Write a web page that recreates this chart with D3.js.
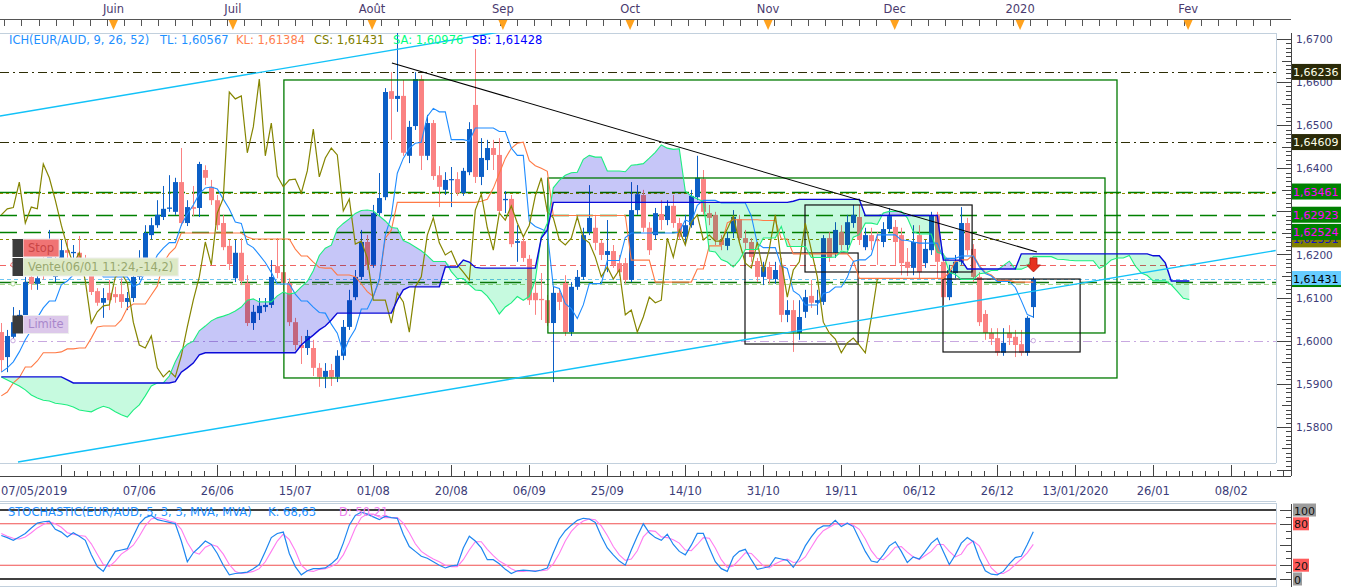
<!DOCTYPE html>
<html><head><meta charset="utf-8">
<script src="https://cdn.jsdelivr.net/npm/d3@7"></script>
<style>
html,body{margin:0;padding:0;background:#fff;}
svg{display:block;font-family:"DejaVu Sans",Verdana,sans-serif;}
</style>
</head><body>
<svg id="c" width="1349" height="588"></svg>
<script>
// ---------------- DATA ----------------
const opens=[1.6020,1.5962,1.6009,1.6029,1.6055,1.6148,1.6132,1.6187,1.6164,1.6148,1.6192,1.6210,1.6203,1.6204,1.6187,1.6164,1.6115,1.6088,1.6111,1.6108,1.6108,1.6090,1.6099,1.6148,1.6192,1.6245,1.6268,1.6287,1.6306,1.6299,1.6368,1.6273,1.6310,1.6308,1.6396,1.6357,1.6326,1.6273,1.6220,1.6145,1.6204,1.6134,1.6041,1.6064,1.6078,1.6083,1.6173,1.6159,1.6134,1.6043,1.5990,1.5983,1.5983,1.5937,1.5916,1.5932,1.5916,1.5965,1.6032,1.6101,1.6148,1.6229,1.6176,1.6296,1.6333,1.6579,1.6561,1.6568,1.6429,1.6498,1.6607,1.6429,1.6505,1.6384,1.6350,1.6373,1.6375,1.6343,1.6391,1.6547,1.6380,1.6419,1.6447,1.6431,1.6326,1.6329,1.6227,1.6231,1.6190,1.6111,1.6097,1.6094,1.6041,1.6111,1.6134,1.6020,1.6125,1.6148,1.6252,1.6262,1.6227,1.6199,1.6208,1.6180,1.6180,1.6141,1.6303,1.6338,1.6262,1.6245,1.6294,1.6280,1.6313,1.6273,1.6241,1.6268,1.6333,1.6375,1.6296,1.6292,1.6234,1.6220,1.6252,1.6282,1.6238,1.6229,1.6185,1.6148,1.6171,1.6143,1.6176,1.6060,1.6071,1.6018,1.6067,1.6104,1.6088,1.6090,1.6238,1.6204,1.6252,1.6222,1.6273,1.6287,1.6217,1.6245,1.6234,1.6229,1.6259,1.6264,1.6245,1.6183,1.6169,1.6245,1.6180,1.6210,1.6292,1.6183,1.6101,1.6157,1.6183,1.6273,1.6213,1.6148,1.6062,1.6018,1.6006,1.5972,1.6018,1.6009,1.5992,1.5972,1.6078];
const highs=[1.6041,1.6025,1.6078,1.6071,1.6148,1.6157,1.6164,1.6234,1.6257,1.6210,1.6234,1.6234,1.6222,1.6243,1.6199,1.6176,1.6122,1.6122,1.6141,1.6125,1.6145,1.6113,1.6164,1.6210,1.6268,1.6285,1.6326,1.6359,1.6384,1.6378,1.6447,1.6326,1.6359,1.6415,1.6407,1.6373,1.6338,1.6292,1.6234,1.6234,1.6238,1.6152,1.6083,1.6099,1.6099,1.6187,1.6238,1.6187,1.6145,1.6053,1.6011,1.6025,1.6002,1.5948,1.5948,1.5946,1.5978,1.6048,1.6118,1.6164,1.6257,1.6245,1.6315,1.6389,1.6586,1.6623,1.6752,1.6605,1.6510,1.6623,1.6616,1.6524,1.6512,1.6405,1.6391,1.6403,1.6391,1.6401,1.6507,1.6677,1.6470,1.6466,1.6466,1.6470,1.6347,1.6338,1.6268,1.6245,1.6199,1.6141,1.6157,1.6106,1.6125,1.6122,1.6152,1.6136,1.6164,1.6262,1.6361,1.6292,1.6234,1.6280,1.6222,1.6199,1.6192,1.6368,1.6361,1.6350,1.6275,1.6308,1.6326,1.6326,1.6338,1.6285,1.6292,1.6350,1.6429,1.6396,1.6315,1.6299,1.6245,1.6252,1.6303,1.6292,1.6257,1.6238,1.6192,1.6183,1.6183,1.6183,1.6192,1.6094,1.6094,1.6094,1.6118,1.6141,1.6118,1.6245,1.6252,1.6275,1.6268,1.6292,1.6315,1.6315,1.6262,1.6262,1.6252,1.6275,1.6308,1.6280,1.6262,1.6215,1.6268,1.6268,1.6234,1.6299,1.6299,1.6192,1.6176,1.6199,1.6310,1.6285,1.6224,1.6159,1.6071,1.6029,1.6029,1.6029,1.6036,1.6025,1.6025,1.6057,1.6148];
const lows=[1.5927,1.5927,1.6002,1.6020,1.6048,1.6118,1.6118,1.6141,1.6152,1.6136,1.6183,1.6192,1.6183,1.6176,1.6152,1.6106,1.6081,1.6053,1.6071,1.6088,1.6076,1.6071,1.6090,1.6141,1.6183,1.6234,1.6262,1.6280,1.6299,1.6292,1.6266,1.6266,1.6289,1.6287,1.6361,1.6315,1.6257,1.6210,1.6164,1.6136,1.6129,1.6034,1.6025,1.6048,1.6067,1.6076,1.6145,1.6118,1.6034,1.5978,1.5946,1.5967,1.5918,1.5893,1.5890,1.5895,1.5904,1.5955,1.6025,1.6094,1.6141,1.6164,1.6169,1.6289,1.6326,1.6466,1.6531,1.6429,1.6412,1.6489,1.6396,1.6419,1.6373,1.6310,1.6338,1.6310,1.6336,1.6336,1.6384,1.6366,1.6361,1.6396,1.6396,1.6294,1.6296,1.6217,1.6183,1.6183,1.6083,1.6060,1.6048,1.6034,1.5904,1.6071,1.6011,1.6011,1.6118,1.6141,1.6245,1.6210,1.6187,1.6159,1.6169,1.6150,1.6132,1.6136,1.6292,1.6252,1.6199,1.6234,1.6257,1.6268,1.6262,1.6234,1.6222,1.6262,1.6326,1.6292,1.6268,1.6222,1.6210,1.6210,1.6238,1.6229,1.6210,1.6183,1.6136,1.6129,1.6132,1.6132,1.6043,1.6043,1.5974,1.6002,1.6053,1.6076,1.6060,1.6083,1.6183,1.6192,1.6210,1.6210,1.6262,1.6222,1.6210,1.6210,1.6176,1.6217,1.6252,1.6176,1.6152,1.6150,1.6152,1.6145,1.6169,1.6199,1.6145,1.6083,1.6094,1.6145,1.6176,1.6199,1.6136,1.6034,1.6002,1.5990,1.5965,1.5965,1.5990,1.5962,1.5965,1.5965,1.6053];
const closes=[1.5955,1.6011,1.6043,1.6060,1.6136,1.6132,1.6145,1.6159,1.6199,1.6183,1.6210,1.6204,1.6206,1.6187,1.6164,1.6113,1.6088,1.6099,1.6094,1.6101,1.6090,1.6099,1.6148,1.6192,1.6250,1.6268,1.6292,1.6306,1.6309,1.6368,1.6273,1.6310,1.6306,1.6410,1.6378,1.6326,1.6268,1.6217,1.6178,1.6204,1.6139,1.6041,1.6067,1.6081,1.6083,1.6148,1.6157,1.6134,1.6043,1.5990,1.5983,1.6011,1.5937,1.5916,1.5930,1.5916,1.5965,1.6032,1.6094,1.6148,1.6229,1.6176,1.6296,1.6331,1.6577,1.6561,1.6568,1.6436,1.6496,1.6607,1.6429,1.6505,1.6382,1.6357,1.6373,1.6375,1.6343,1.6394,1.6491,1.6380,1.6424,1.6447,1.6431,1.6301,1.6329,1.6224,1.6231,1.6192,1.6094,1.6094,1.6094,1.6041,1.6111,1.6090,1.6020,1.6125,1.6148,1.6245,1.6285,1.6227,1.6199,1.6208,1.6176,1.6159,1.6141,1.6303,1.6340,1.6262,1.6210,1.6296,1.6280,1.6313,1.6273,1.6241,1.6268,1.6336,1.6378,1.6299,1.6285,1.6234,1.6222,1.6238,1.6287,1.6238,1.6227,1.6194,1.6148,1.6171,1.6143,1.6164,1.6060,1.6071,1.6020,1.6055,1.6101,1.6088,1.6094,1.6238,1.6194,1.6257,1.6222,1.6275,1.6292,1.6234,1.6245,1.6231,1.6231,1.6259,1.6289,1.6229,1.6180,1.6169,1.6229,1.6159,1.6213,1.6292,1.6183,1.6101,1.6164,1.6183,1.6273,1.6210,1.6148,1.6043,1.6018,1.6004,1.5972,1.5995,1.6006,1.5990,1.5972,1.6053,1.61431];

const tenkanHead=[1.5927,1.5937,1.5951,1.5974,1.6002,1.6025,1.6053,1.6076];
const kijunHead=[1.5872,1.5881,1.5902,1.5914,1.5939,1.5939,1.5953,1.5972,1.5972,1.5972,1.5974,1.5981,1.5981,1.5983,1.5983,1.6006,1.6032,1.6034,1.6034,1.6034,1.6048,1.6076,1.6085,1.6085,1.6085];
const spanAHead=[1.5916,1.5909,1.5902,1.5895,1.5886,1.5874,1.5867,1.5862,1.5860,1.5855,1.5853,1.5851,1.5846,1.5839,1.5837,1.5835,1.5842,1.5848,1.5844,1.5835,1.5828,1.5823,1.5839,1.5851,1.5872,1.5895,1.5902,1.5902,1.5918,1.5951,1.5978,1.5992,1.5999,1.6023,1.6034,1.6046,1.6053,1.6057,1.6062,1.6069,1.6078,1.6094,1.6097,1.6090,1.6090,1.6090,1.6104,1.6113,1.6108,1.6111,1.6125];
const spanBHead=[1.5916,1.5916,1.5916,1.5916,1.5916,1.5916,1.5916,1.5916,1.5916,1.5916,1.5916,1.5909,1.5902,1.5902,1.5902,1.5902,1.5902,1.5902,1.5902,1.5902,1.5902,1.5902,1.5902,1.5902,1.5902,1.5902,1.5902,1.5902,1.5902,1.5905,1.5927,1.5937,1.5948,1.5967,1.5972,1.5972,1.5972,1.5972,1.5972,1.5972,1.5972,1.5972,1.5972,1.5972,1.5972,1.5972,1.5972,1.5972,1.5972,1.5972,1.5990,1.6002,1.6013,1.6025,1.6034,1.6048,1.6064,1.6064,1.6064,1.6064,1.6064,1.6064,1.6064,1.6064,1.6064,1.6064,1.6094,1.6118,1.6125,1.6125,1.6125,1.6125,1.6125,1.6125,1.6171,1.6171,1.6171];

const stochK=[63,60,56,61,66,74,81,83,84,72,68,61,67,62,56,35,18,11,26,40,42,44,62,80,89,92,86,84,82,80,55,25,38,46,55,50,37,20,6,8,9,10,15,21,40,60,66,68,37,18,6,12,15,15,16,22,30,52,78,92,97,94,90,86,91,89,88,65,47,40,33,30,25,20,16,19,20,45,62,55,45,28,28,22,14,8,12,13,12,11,13,16,38,58,70,78,85,88,87,82,62,45,35,26,20,42,62,80,67,60,56,65,50,40,35,49,66,66,45,25,15,11,32,40,43,28,14,16,18,31,29,27,17,30,48,61,72,77,77,85,76,81,76,58,40,26,24,35,48,54,40,24,32,29,40,52,59,40,21,35,52,60,54,30,12,7,6,11,22,31,33,50,68.63];
const stochD=[66,62,59,58,61,67,74,79,83,80,75,67,65,63,62,51,36,21,18,26,36,42,49,62,77,87,89,87,84,82,72,53,39,36,46,50,47,36,21,11,8,9,11,15,25,40,55,65,57,41,20,12,11,14,15,18,23,35,53,74,89,94,94,90,89,89,89,81,67,51,40,34,29,25,20,18,18,28,42,54,54,43,34,26,21,15,11,11,12,12,12,13,22,37,55,69,78,84,87,86,77,63,47,35,27,29,41,61,70,69,61,60,57,52,42,41,50,60,59,45,28,17,19,28,38,37,28,19,16,22,26,29,24,25,32,46,60,70,75,80,79,81,78,72,58,41,30,28,36,46,47,39,32,28,34,40,50,50,40,32,36,49,55,48,32,16,8,8,13,21,29,38,50.21];

const monthNames=['Juin','Juil','Août','Sep','Oct','Nov','Dec','2020','Fev'];
const monthPos=[18.7,38.6,61.8,83.6,104.8,127.8,148.9,169.8,197.8];
const dateLabels=['07/05/2019','07/06','26/06','15/07','01/08','20/08','06/09','25/09','14/10','31/10','19/11','06/12','26/12','13/01/2020','26/01','08/02'];
const datePos=[0,23,36,49,62,75,88,101,114,127,140,153,166,179,192,205];
const priceTicks=[1.58,1.59,1.60,1.61,1.62,1.63,1.64,1.65,1.66,1.67];

const legendParts=['ICH(EUR/AUD, 9, 26, 52)','TL: 1,60567','KL: 1,61384','CS: 1,61431','SA: 1,60976','SB: 1,61428'];
const legendColors=['#1E90FF','#1E90FF','#FF7F50','#808000','#00FF7F','#0000FF'];
const stochLegend=['STOCHASTIC(EUR/AUD, 5, 3, 3, MVA, MVA)','K: 68,63','D: 50,21'];

// horizontal levels: price, colour, dash
const levelPrices=[1.66236,1.64609,1.63461,1.6342,1.62923,1.62524,1.62351,1.6176,1.61431,1.6137,1.6132,1.6000];
const levelColors=['#2E2E05','#2E2E05','#008000','#8A8A00','#008000','#008000','#8A8A00','#F06464','#6EC6F2','#0A780A','#A8D890','#C8A8E0'];
const levelDash=['9,4,2,4','9,4,2,4','17,7','3,3','17,7','17,7','3,3','6,4','4,3','17,7','5,3','9,4,2,4'];

const boxLabels=['1,66236','1,64609','1,63461','1,62923','1,62351','1,62524','1,61431'];
const boxPrices=[1.66236,1.64609,1.63461,1.62923,1.62351,1.62524,1.61431];
const boxBg=['#2A2A08','#2A2A08','#008000','#008000','#808000','#008000','#66CCFF'];
const boxFg=['#FFFFE8','#FFFFE8','#FF00FF','#FF00FF','#1010C0','#FF00FF','#000000'];

// rectangles: [startBar, endBar, priceTop, priceBottom]
const rectGreen=[[47.1,185.95,1.66049,1.59135],[91.1,183.95,1.63775,1.60179]];
const rectBlack=[[123.95,142.8,1.62035,1.59923],[133.95,161.8,1.63149,1.61594],[156.95,179.8,1.61431,1.59738]];
// trend lines: [bar1, price1, bar2, price2]
const trendBlack=[[65.1,1.66443,172.6,1.62058]];
const trendCyan=[[-0.22,1.65213,83.1,1.67162],[2.78,1.57186,212.4,1.62093]];

const orderText=['Stop','Vente(06/01 11:24,-14,2)','Limite'];
const orderPrice=[1.62151,1.6171,1.60376];
const orderBg=['#F07474','#DDE9C6','#DCC8EA'];
const orderFg=['#C94545','#98A86E','#A987CC'];

// ---------------- DRAW ----------------
const N=opens.length;
const svg=d3.select('#c');
const PX1=1276, PY0=33, PY1=463;
const x=d3.scaleLinear().domain([0,172]).range([1.3,1033.3]);
const y=d3.scaleLinear().domain([1.57,1.67]).range([470,39]);
const ys=d3.scaleLinear().domain([0,100]).range([579,510]);
const axisCol='#3C3C78';

function hl(a,b){let mx=-Infinity,mn=Infinity;for(let k=Math.max(0,a);k<=b;k++){mx=Math.max(mx,highs[k]);mn=Math.min(mn,lows[k]);}return (mx+mn)/2;}
const tenkan=d3.range(N).map(i=>i<tenkanHead.length?tenkanHead[i]:hl(i-8,i));
const kijun=d3.range(N).map(i=>i<kijunHead.length?kijunHead[i]:hl(i-25,i));
const spanA=d3.range(N+26).map(j=>j<spanAHead.length?spanAHead[j]:(tenkan[j-26]+kijun[j-26])/2);
const spanB=d3.range(N+26).map(j=>j<spanBHead.length?spanBHead[j]:hl(j-77,j-26));
const chikou=d3.range(N-26).map(j=>closes[j+26]);

const defs=svg.append('defs');
defs.append('clipPath').attr('id','plot').append('rect').attr('x',0).attr('y',PY0).attr('width',PX1).attr('height',PY1-PY0);
defs.append('clipPath').attr('id','stoch').append('rect').attr('x',0).attr('y',503).attr('width',PX1).attr('height',83);

// frames
const frameCol='#C2D0DD';
svg.append('line').attr('x1',0).attr('x2',PX1).attr('y1',PY0+0.5).attr('y2',PY0+0.5).attr('stroke',frameCol);
svg.append('line').attr('x1',0).attr('x2',PX1).attr('y1',PY1+0.5).attr('y2',PY1+0.5).attr('stroke',frameCol);
svg.append('line').attr('x1',PX1+0.5).attr('x2',PX1+0.5).attr('y1',PY0).attr('y2',PY1).attr('stroke',frameCol);
svg.append('line').attr('x1',0).attr('x2',PX1).attr('y1',501.5).attr('y2',501.5).attr('stroke',frameCol);
svg.append('line').attr('x1',0).attr('x2',PX1).attr('y1',503.5).attr('y2',503.5).attr('stroke',frameCol);
svg.append('line').attr('x1',0).attr('x2',PX1).attr('y1',586.5).attr('y2',586.5).attr('stroke',frameCol);
svg.append('line').attr('x1',PX1+0.5).attr('x2',PX1+0.5).attr('y1',503).attr('y2',587).attr('stroke',frameCol);

// top strip (months)
const topG=svg.append('g');
topG.append('line').attr('x1',0).attr('x2',1291).attr('y1',19.5).attr('y2',19.5).attr('stroke','#555');
d3.range(0.5,214,2.85).forEach(t=>{const xx=Math.round(x(t))+0.5; if(xx<1291) topG.append('line').attr('x1',xx).attr('x2',xx).attr('y1',20).attr('y2',26).attr('stroke','#555');});
monthNames.forEach((m,k)=>{
  const xx=x(monthPos[k]);
  topG.append('text').attr('x',xx).attr('y',13).attr('text-anchor','middle').attr('font-size','11.5px').attr('fill','#4A3A6E').text(m);
  topG.append('path').attr('d',`M${xx-4.5},20L${xx+4.5},20L${xx},30Z`).attr('fill','#FFA21E');
});

// horizontal levels
const gp=svg.append('g').attr('clip-path','url(#plot)');
levelPrices.forEach((p,k)=>{
  gp.append('line').attr('x1',0).attr('x2',PX1).attr('y1',Math.round(y(p))+0.5).attr('y2',Math.round(y(p))+0.5)
    .attr('stroke',levelColors[k]).attr('stroke-width',k===2||k===4||k===5||k===9?1.4:1.1).attr('stroke-dasharray',levelDash[k]);
});

// candles
const bars=d3.range(N).map(i=>({i,o:opens[i],h:highs[i],l:lows[i],c:closes[i]}));
const cg=gp.append('g');
const bull='#0C5FC6', bear='#FA8282';
cg.selectAll('line').data(bars).join('line')
  .attr('x1',d=>Math.round(x(d.i))+0.5).attr('x2',d=>Math.round(x(d.i))+0.5)
  .attr('y1',d=>y(d.h)).attr('y2',d=>y(d.l))
  .attr('stroke',d=>d.c>=d.o?bull:bear).attr('stroke-width',1);
cg.selectAll('rect').data(bars).join('rect')
  .attr('x',d=>Math.round(x(d.i))-2).attr('width',5)
  .attr('y',d=>y(Math.max(d.o,d.c))).attr('height',d=>Math.max(1.2,Math.abs(y(d.o)-y(d.c))))
  .attr('fill',d=>d.c>=d.o?bull:bear);

// cloud
const cloud=d3.range(N+26).map(j=>({j,a:spanA[j],b:spanB[j]}));
gp.append('path').datum(cloud).attr('fill','#C6C6F8').style('mix-blend-mode','multiply')
  .attr('d',d3.area().x(d=>x(d.j)).y0(d=>y(d.b)).y1(d=>y(Math.max(d.a,d.b))));
gp.append('path').datum(cloud).attr('fill','#C6FADF').style('mix-blend-mode','multiply')
  .attr('d',d3.area().x(d=>x(d.j)).y0(d=>y(d.a)).y1(d=>y(Math.max(d.a,d.b))));

// rectangles
rectGreen.forEach(r=>gp.append('rect').attr('x',x(r[0])).attr('y',y(r[2])).attr('width',x(r[1])-x(r[0])).attr('height',y(r[3])-y(r[2])).attr('fill','none').attr('stroke','#007A00').attr('stroke-width',1.3));
rectBlack.forEach(r=>gp.append('rect').attr('x',x(r[0])).attr('y',y(r[2])).attr('width',x(r[1])-x(r[0])).attr('height',y(r[3])-y(r[2])).attr('fill','none').attr('stroke','#111').attr('stroke-width',1.2));

// ichimoku lines
const ln=(arr,off)=>d3.line().x((d,k)=>x(k+(off||0))).y(d=>y(d))(arr);
gp.append('path').attr('d',ln(kijun)).attr('fill','none').attr('stroke','#FF7A45').attr('stroke-width',1.1);
gp.append('path').attr('d',ln(tenkan)).attr('fill','none').attr('stroke','#1E8CFF').attr('stroke-width',1.1);
gp.append('path').attr('d',ln(chikou)).attr('fill','none').attr('stroke','#858500').attr('stroke-width',1.2);
gp.append('path').attr('d',ln(spanA)).attr('fill','none').attr('stroke','#1EEE80').attr('stroke-width',1.1);
gp.append('path').attr('d',ln(spanB)).attr('fill','none').attr('stroke','#0A0AD8').attr('stroke-width',1.4);

// trend lines
trendBlack.forEach(t=>gp.append('line').attr('x1',x(t[0])).attr('y1',y(t[1])).attr('x2',x(t[2])).attr('y2',y(t[3])).attr('stroke','#000').attr('stroke-width',1.1));
trendCyan.forEach(t=>gp.append('line').attr('x1',x(t[0])).attr('y1',y(t[1])).attr('x2',x(t[2])).attr('y2',y(t[3])).attr('stroke','#12C2F8').attr('stroke-width',1.4));

// small markers on levels
[[0,1.6176,'#F06464'],[0,1.6132,'#A8D890'],[0,1.6000,'#C8A8E0'],[172,1.6000,'#C8A8E0']].forEach(m=>{
  gp.append('circle').attr('cx',m[0]===0?13:x(m[0])).attr('cy',y(m[1])).attr('r',2.2).attr('fill','#fff').attr('stroke',m[2]);
});

// sell arrow at last bar
const ax=Math.round(x(172))+0.5, ay=y(1.6192);
gp.append('path').attr('d',`M${ax-3.5},${ay}L${ax+3.5},${ay}L${ax+3.5},${ay+7}L${ax+7},${ay+7}L${ax},${ay+14}L${ax-7},${ay+7}L${ax-3.5},${ay+7}Z`)
  .attr('fill','#E63320').attr('stroke','#B01A10').attr('stroke-width',0.8);

// order labels on the left
orderText.forEach((t,k)=>{
  const yc=y(orderPrice[k]);
  const g=svg.append('g');
  const txt=g.append('text').attr('x',28).attr('y',yc+4).attr('font-size','11.5px').attr('fill',orderFg[k]).text(t);
  const w=txt.node().getComputedTextLength();
  g.insert('rect','text').attr('x',23).attr('y',yc-9).attr('width',w+10).attr('height',18).attr('fill',orderBg[k]).attr('stroke','#eee');
  g.insert('rect','text').attr('x',12.5).attr('y',yc-9).attr('width',10.5).attr('height',18).attr('fill','#3C3C3C');
});

// legend
const lx=[9,160,236,314,393,472];
legendParts.forEach((t,k)=>svg.append('text').attr('x',lx[k]).attr('y',44).attr('font-size','11.5px').attr('fill',legendColors[k]).text(t));

// right price axis
const ra=svg.append('g');
ra.append('line').attr('x1',1291.5).attr('x2',1291.5).attr('y1',PY0).attr('y2',476).attr('stroke','#444');
d3.range(0,101).forEach(k=>{
  const p=1.57+k*0.001; const yy=Math.round(y(p))+0.5;
  if(yy<PY0||yy>474) return;
  const len=(k%10===0)?14:(k%5===0?9:5);
  ra.append('line').attr('x1',1291-len).attr('x2',1291).attr('y1',yy).attr('y2',yy).attr('stroke','#444');
});
// tick labels; a label entirely covered by a level box is not drawn (as in the reference)
priceTicks.forEach(p=>{
  const hidden=boxPrices.some(b=>Math.abs(y(b)-y(p))<4.5);
  if(hidden) return;
  ra.append('text').attr('x',1296).attr('y',y(p)+4).attr('font-size','10.5px').attr('fill',axisCol).text(d3.format('.4f')(p).replace('.',','));
});
boxLabels.forEach((t,k)=>{
  const yc=y(boxPrices[k]);
  ra.append('rect').attr('x',1292).attr('y',yc-8).attr('width',49).attr('height',16).attr('fill',boxBg[k]);
  if(k===6) ra.append('rect').attr('x',1292).attr('y',yc+6).attr('width',49).attr('height',2).attr('fill','#008000');
  ra.append('text').attr('x',1293).attr('y',yc+4).attr('font-size','11px').attr('fill',boxFg[k]).text(t);
});

// bottom date axis
const ba=svg.append('g');
ba.append('line').attr('x1',0).attr('x2',1291).attr('y1',476.5).attr('y2',476.5).attr('stroke','#444');
d3.range(10,214,13/6).forEach((t,k)=>{
  const xx=Math.round(x(t))+0.5; if(xx>1290) return;
  const major=(k%6===0);
  ba.append('line').attr('x1',xx).attr('x2',xx).attr('y1',major?465:471).attr('y2',476).attr('stroke','#444');
});
dateLabels.forEach((t,k)=>{
  ba.append('text').attr('x',k===0?1:x(datePos[k])).attr('y',495).attr('text-anchor',k===0?'start':'middle')
    .attr('font-size','11.5px').attr('fill',axisCol).text(t);
});

// stochastic panel
const sg=svg.append('g').attr('clip-path','url(#stoch)');
[[100,'#000',1.6],[80,'#F05050',1.1],[20,'#F05050',1.1],[0,'#000',1.6]].forEach(l=>{
  sg.append('line').attr('x1',0).attr('x2',PX1).attr('y1',ys(l[0])).attr('y2',ys(l[0])).attr('stroke',l[1]).attr('stroke-width',l[2]);
});
const sline=d3.line().x((d,k)=>x(k)).y(d=>ys(d));
sg.append('path').attr('d',sline(stochD)).attr('fill','none').attr('stroke','#FF7CF0').attr('stroke-width',1.1);
sg.append('path').attr('d',sline(stochK)).attr('fill','none').attr('stroke','#1E86F0').attr('stroke-width',1.2);
svg.append('text').attr('x',8).attr('y',516).attr('font-size','11.5px').attr('fill','#1E90FF').text(stochLegend[0]);
svg.append('text').attr('x',268).attr('y',516).attr('font-size','11.5px').attr('fill','#1E90FF').text(stochLegend[1]);
svg.append('text').attr('x',339).attr('y',516).attr('font-size','11.5px').attr('fill','#EE82EE').text(stochLegend[2]);
const sa=svg.append('g');
sa.append('line').attr('x1',1291.5).attr('x2',1291.5).attr('y1',504).attr('y2',587).attr('stroke','#444');
d3.range(0,101,10).forEach(v=>{
  const yy=Math.round(ys(v))+0.5;
  sa.append('line').attr('x1',v%50===0||v===80||v===20?1280:1286).attr('x2',1291).attr('y1',yy).attr('y2',yy).attr('stroke','#444');
});
[[100,'#9C9C9C'],[80,'#FF5A5A'],[20,'#FF5A5A'],[0,'#9C9C9C']].forEach(l=>{
  const t=String(l[0]); const yc=ys(l[0]);
  const w=t.length*7+2;
  sa.append('rect').attr('x',1293).attr('y',yc-6.5).attr('width',w).attr('height',13).attr('fill',l[1]);
  sa.append('text').attr('x',1294).attr('y',yc+4.5).attr('font-size','11px').attr('fill','#111').text(t);
});
</script>
</body></html>
